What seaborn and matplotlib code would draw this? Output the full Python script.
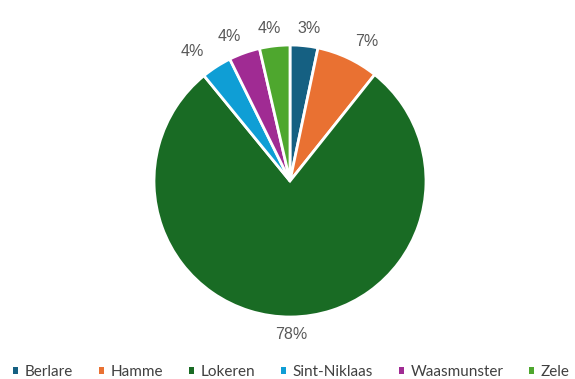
import matplotlib
matplotlib.use("Agg")
import matplotlib.pyplot as plt
import numpy as np
import seaborn as sns

gemeenten = ["Berlare", "Hamme", "Lokeren", "Sint-Niklaas", "Waasmunster", "Zele"]
aandeel = [3.3, 7.4, 78.4, 3.6, 3.7, 3.6]
kleuren = ["#156082", "#E97132", "#196B24", "#0F9ED5", "#A02B93", "#4EA72E"]

sns.set_theme(style="white")
plt.rcParams["font.family"] = ["Liberation Sans", "DejaVu Sans"]

W, H = 575, 379
fig = plt.figure(figsize=(W / 100, H / 100), dpi=100)
ax = fig.add_axes([0, 0, 1, 1])

palette = sns.color_palette(kleuren)
wedges, _, autotexts = ax.pie(
    aandeel,
    colors=palette,
    startangle=90,
    counterclock=False,
    autopct="%.0f%%",
    pctdistance=1.13,
    radius=1,
    wedgeprops=dict(edgecolor="white", linewidth=2),
    textprops=dict(color="#595959", fontsize=11.5),
)

# labels sit outside the wedges, spread a little wider horizontally
for w, t in zip(wedges, autotexts):
    mid = np.deg2rad((w.theta1 + w.theta2) / 2)
    t.set_position((1.33 * np.cos(mid), 1.13 * np.sin(mid)))

# pie centre and radius in pixels
cx, cy, r = 290, 379 - 181, 136
ax.set_aspect("auto")
ax.set_xlim(-cx / r, (W - cx) / r)
ax.set_ylim(-cy / r, (H - cy) / r)
ax.axis("off")

leg = fig.legend(
    wedges, gemeenten,
    loc="center", bbox_to_anchor=(0.507, 1 - 372 / H),
    ncol=6, frameon=False,
    handlelength=0.33, handleheight=0.33, handletextpad=0.42,
    columnspacing=1.7,
    prop={"family": ["Lato", "DejaVu Sans"], "size": 11},
)
for p in leg.get_patches():
    p.set_linewidth(0)
for t in leg.get_texts():
    t.set_color("#404040")

fig.savefig("out.png", dpi=100, facecolor="white")
